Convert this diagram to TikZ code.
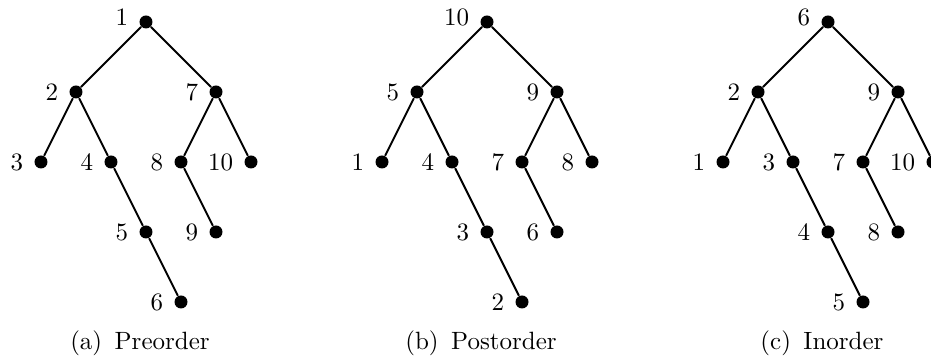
\documentclass[tikz,border=0pt]{standalone}
\usepackage{tikz}
\usetikzlibrary{positioning}

\tikzset{
    treedot/.style={circle, fill=black, inner sep=0pt, minimum size=5.2pt},
    treeedge/.style={thick},
    every label/.style={label distance=0.8pt}
}

\begin{document}
\begin{tikzpicture}[x=14pt, y=28pt]
    \useasboundingbox (-58.4pt,-134.8pt) rectangle (314pt,8.8pt);

    % (a) preorder
    \begin{scope}[name prefix=a-]
        \node[treedot, label={[yshift=2pt]left:1}] (root) at (0,0) {};
        \node[treedot, label=left:2] (L) at (-2,-1) {};
        \node[treedot, label=left:7] (R) at (2,-1) {};
        \node[treedot, label=left:3] (LL) at (-3,-2) {};
        \node[treedot, label=left:4] (LR) at (-1,-2) {};
        \node[treedot, label=left:8] (RL) at (1,-2) {};
        \node[treedot, label=left:10] (RR) at (3,-2) {};
        \node[treedot, label=left:5] (LRR) at (0,-3) {};
        \node[treedot, label=left:9] (RLR) at (2,-3) {};
        \node[treedot, label=left:6] (LRRR) at (1,-4) {};
        \draw[treeedge] (root) -- (L) (root) -- (R) (L) -- (LL) (L) -- (LR)
            (R) -- (RL) (R) -- (RR) (LR) -- (LRR) (RL) -- (RLR) (LRR) -- (LRRR);
        \node (caption) at (-2.4pt,-128.4pt) {(a)\hspace{0.5em}Preorder};
    \end{scope}

    % (b) postorder
    \begin{scope}[xshift=136.4pt, name prefix=b-]
        \node[treedot, label={[yshift=2pt]left:10}] (root) at (0,0) {};
        \node[treedot, label=left:5] (L) at (-2,-1) {};
        \node[treedot, label=left:9] (R) at (2,-1) {};
        \node[treedot, label=left:1] (LL) at (-3,-2) {};
        \node[treedot, label=left:4] (LR) at (-1,-2) {};
        \node[treedot, label=left:7] (RL) at (1,-2) {};
        \node[treedot, label=left:8] (RR) at (3,-2) {};
        \node[treedot, label=left:3] (LRR) at (0,-3) {};
        \node[treedot, label=left:6] (RLR) at (2,-3) {};
        \node[treedot, label=left:2] (LRRR) at (1,-4) {};
        \draw[treeedge] (root) -- (L) (root) -- (R) (L) -- (LL) (L) -- (LR)
            (R) -- (RL) (R) -- (RR) (LR) -- (LRR) (RL) -- (RLR) (LRR) -- (LRRR);
        \node (caption) at (-2.4pt,-128.4pt) {(b)\hspace{0.5em}Postorder};
    \end{scope}

    % (c) inorder
    \begin{scope}[xshift=272.8pt, name prefix=c-]
        \node[treedot, label={[yshift=2pt]left:6}] (root) at (0,0) {};
        \node[treedot, label=left:2] (L) at (-2,-1) {};
        \node[treedot, label=left:9] (R) at (2,-1) {};
        \node[treedot, label=left:1] (LL) at (-3,-2) {};
        \node[treedot, label=left:3] (LR) at (-1,-2) {};
        \node[treedot, label=left:7] (RL) at (1,-2) {};
        \node[treedot, label=left:10] (RR) at (3,-2) {};
        \node[treedot, label=left:4] (LRR) at (0,-3) {};
        \node[treedot, label=left:8] (RLR) at (2,-3) {};
        \node[treedot, label=left:5] (LRRR) at (1,-4) {};
        \draw[treeedge] (root) -- (L) (root) -- (R) (L) -- (LL) (L) -- (LR)
            (R) -- (RL) (R) -- (RR) (LR) -- (LRR) (RL) -- (RLR) (LRR) -- (LRRR);
        \node (caption) at (-2.4pt,-128.4pt) {(c)\hspace{0.5em}Inorder};
    \end{scope}
\end{tikzpicture}
\end{document}
